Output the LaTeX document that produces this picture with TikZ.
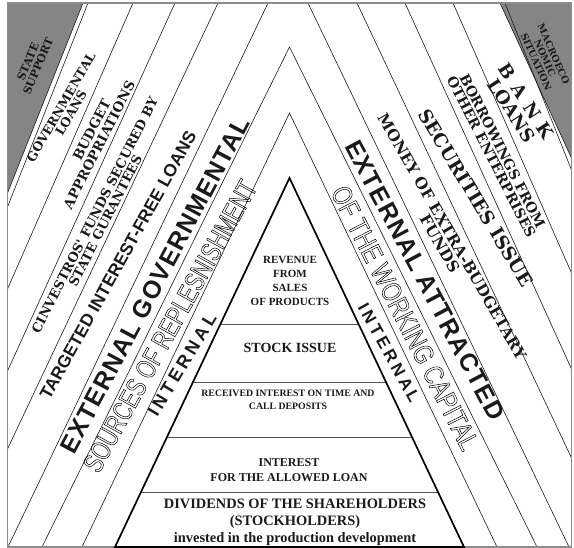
\documentclass[tikz,border=0pt]{standalone}
\usepackage{fontspec}
\usetikzlibrary{calc}
\setmainfont{Liberation Serif}
\newfontfamily\wcbook{DejaVu Serif}
\newfontfamily\wcsans{Liberation Sans}
\newfontfamily\wcsanswide{Liberation Sans}[LetterSpace=5]
\newfontfamily\wcsansspread{Liberation Sans}[LetterSpace=20]
\newfontfamily\wcbookspread{DejaVu Serif}[LetterSpace=45]
\newfontfamily\wctall{Liberation Sans}[FakeStretch=0.73]
\newfontfamily\wctaller{Liberation Sans}[FakeStretch=0.79]
\newcommand{\wcsize}[2]{\fontsize{#1}{#2}\selectfont}
% stroked (hollow) letters
\newcommand{\hollow}[1]{\special{pdf:literal direct 1 Tr 0.5 w}#1\special{pdf:literal direct 0 Tr}}
\definecolor{wcshade}{HTML}{858585}
\definecolor{wcink}{HTML}{1A1A1A}
\definecolor{wcframe}{HTML}{8C8C8C}
\definecolor{wctier}{HTML}{555555}
\tikzset{
  bandline/.style={draw=wcink,line width=0.6pt},
  shadecorner/.style={fill=wcshade,draw=none},
  pyramid/.style={draw=black,line width=1.7pt,line join=miter},
  tierline/.style={draw=wctier,line width=0.9pt},
  tiertext/.style={align=center,inner sep=0pt,text=wcink},
  bandtext/.style={align=center,inner sep=0pt,text=wcink},
  hollowtext/.style={align=center,inner sep=0pt,text=black},
}
\begin{document}
\begin{tikzpicture}[x=1pt,y=-1pt]
  \path[use as bounding box] (0,0) rectangle (574,548);
  % grey corners
  \fill[shadecorner] (7.5,3) -- (83,3) -- (7.5,193) -- cycle;
  \fill[shadecorner] (571.5,3) -- (500,3) -- (571.5,158) -- cycle;
  % outer bands, left and right
  \foreach \tx/\ex/\ey in {83/7.5/193,88/7.5/207,133/7.5/289,175/7.5/371,218/7.5/449,268/8/547}
    {\draw[bandline] (\tx,3) -- (\ex,\ey);}
  \foreach \tx/\ex/\ey in {500/571.5/158,505/571.5/170,453/571.5/273,405/571.5/369,357/571.5/458,308/569/547}
    {\draw[bandline] (\tx,3) -- (\ex,\ey);}
  % chevrons round the pyramid
  \foreach \ay/\lx/\rx in {47/42/537,113/82/497}
    {\draw[bandline] (\lx,547) -- (289.5,\ay) -- (\rx,547);}
  \draw[draw=wcframe,line width=1.2pt] (7.5,3) rectangle (571.5,547);
  % pyramid
  \coordinate (apex) at (289.5,178);
  \coordinate (bl) at (115,547);
  \coordinate (br) at (464,547);
  \foreach \tier in {0.3957,0.5528,0.7019,0.8509}
    {\draw[tierline] ($(apex)!\tier!(bl)$) -- ($(apex)!\tier!(br)$);}
  \draw[pyramid] (bl) -- (apex) -- (br) -- cycle;
  \node[tiertext,font=\bfseries\wcsize{11}{14}] (revenue) at (290,281) {REVENUE\\FROM\\SALES\\OF PRODUCTS};
  \node[tiertext,font=\bfseries\wcsize{14}{17}] (stock) at (290,348) {STOCK ISSUE};
  \node[tiertext,font=\bfseries\wcsize{9.8}{13.5}] (deposits) at (288,400) {RECEIVED INTEREST ON TIME AND\\CALL DEPOSITS};
  \node[tiertext,font=\bfseries\wcsize{12}{15}] (loan) at (289,470) {INTEREST\\FOR THE ALLOWED LOAN};
  \node[tiertext,font=\bfseries\wcsize{14.4}{17}] (dividends) at (295,522) {DIVIDENDS OF THE SHAREHOLDERS\\(STOCKHOLDERS)\\invested in the production development};
  % left side: sources from the state
  \node[bandtext,rotate=67,font=\wcbook\bfseries\wcsize{11}{11}] (statesupport) at (33,64) {STATE\\SUPPORT};
  \node[bandtext,rotate=60,font=\wcbook\bfseries\wcsize{12.5}{11.5}] (govloans) at (66,110) {GOVERNMENTAL\\LOANS};
  \node[bandtext,rotate=63,font=\wcbook\bfseries\wcsize{13.5}{13.5}] (budget) at (93,142) {\hspace*{1.5em}BUDGET\\APPROPRIATIONS};
  \node[bandtext,rotate=63,font=\wcbook\bfseries\wcsize{13}{12}] (cinvestros) at (100,218) {CINVESTROS' FUNDS SECURED BY\\STATE GURANTEES};
  \node[bandtext,rotate=61,font=\wcsans\bfseries\wcsize{17.5}{20}] (targeted) at (118,265) {TARGETED INTEREST-FREE LOANS};
  \node[bandtext,rotate=62,font=\wcsanswide\bfseries\wcsize{25}{28}] (extgov) at (155,285) {EXTERNAL GOVERNMENTAL};
  \node[hollowtext,rotate=61,font=\wctall\wcsize{28}{30}] (sources) at (170,326) {\hollow{SOURCES OF REPLESNISHMENT}};
  \node[bandtext,rotate=59,font=\wcsansspread\bfseries\wcsize{18}{20}] (internall) at (182,365) {INTERNAL};
  % right side: attracted sources
  \node[bandtext,rotate=-66,font=\wcbook\bfseries\wcsize{9.5}{9.5}] (macro) at (545,58) {MACROECO\\NOMIC\\SITUATION};
  \node[bandtext,rotate=-57,font=\wcbook\bfseries\wcsize{18}{17}] (bank) at (519,106) {{\wcbookspread BANK}\\LOANS};
  \node[bandtext,rotate=-63,font=\wcbook\bfseries\wcsize{14}{12.5}] (borrow) at (497,154) {BORROWINGS FROM\\OTHER ENTERPRISES};
  \node[bandtext,rotate=-59,font=\wcbook\bfseries\wcsize{18.5}{20}] (securities) at (476,198) {SECURITIES ISSUE};
  \node[bandtext,rotate=-60,font=\wcbook\bfseries\wcsize{15.5}{14}] (extrabudget) at (446,240) {MONEY OF EXTRA-BUDGETARY\\FUNDS};
  \node[bandtext,rotate=-62,font=\wcsanswide\bfseries\wcsize{25}{28}] (extattr) at (425,280) {EXTERNAL ATTRACTED};
  \node[hollowtext,rotate=-63,font=\wctaller\wcsize{28}{30}] (workcap) at (405,318) {\hollow{OF THE WORKING CAPITAL}};
  \node[bandtext,rotate=-61,font=\wcsansspread\bfseries\wcsize{17}{20}] (internalr) at (389,353) {INTERNAL};
\end{tikzpicture}
\end{document}
